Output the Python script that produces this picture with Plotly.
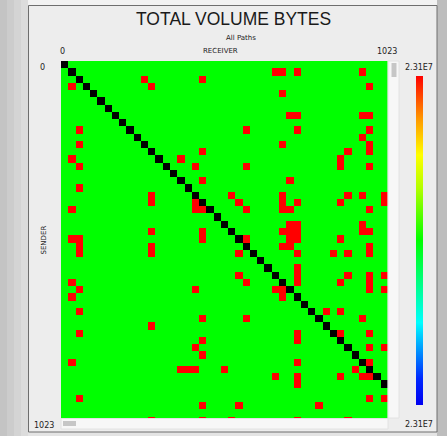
import plotly.graph_objects as go

W, H = 447, 436

# Matrix of node-to-node traffic, binned into 45 receiver columns; 50 sender rows are in view.
n_receivers = 45
n_senders = 50
tick_first = "0"
tick_last = "1023"
scale_label = "2.31E7"

# (sender_row, receiver_col) bins that carry the full volume
hot_cells = [
    (1, 29), (1, 30), (1, 32), (1, 41),
    (2, 11), (2, 19),
    (3, 1), (3, 12), (3, 42),
    (4, 30),
    (7, 31), (7, 32), (7, 41), (7, 42),
    (9, 2), (9, 25), (9, 32), (9, 42),
    (10, 41),
    (11, 2), (11, 30), (11, 42),
    (12, 19), (12, 39), (12, 42),
    (13, 1), (13, 16), (13, 38),
    (14, 2), (14, 18), (14, 25), (14, 38), (14, 42),
    (16, 19), (16, 31),
    (17, 2),
    (18, 12), (18, 23), (18, 30), (18, 39), (18, 41), (18, 44),
    (19, 12), (19, 18), (19, 24), (19, 30), (19, 32), (19, 38), (19, 44),
    (20, 1), (20, 18), (20, 19), (20, 25), (20, 30), (20, 31), (20, 42),
    (22, 31), (22, 32), (22, 41),
    (23, 12), (23, 19), (23, 30), (23, 31), (23, 32), (23, 41), (23, 42),
    (24, 1), (24, 2), (24, 19), (24, 25), (24, 31), (24, 32), (24, 38),
    (25, 2), (25, 12), (25, 30), (25, 31), (25, 42),
    (26, 2), (26, 12), (26, 24), (26, 32), (26, 37), (26, 39), (26, 42),
    (28, 32),
    (29, 24), (29, 32), (29, 39), (29, 42), (29, 44),
    (30, 1), (30, 25), (30, 32), (30, 38), (30, 42),
    (31, 2), (31, 18), (31, 29), (31, 30), (31, 42), (31, 44),
    (32, 1), (32, 30),
    (34, 2), (34, 36), (34, 38),
    (35, 19), (35, 25), (35, 41),
    (36, 12),
    (37, 2), (37, 32), (37, 38), (37, 42),
    (38, 19), (38, 32),
    (39, 18), (39, 42), (39, 44),
    (40, 19),
    (41, 1), (41, 32), (41, 42),
    (42, 16), (42, 17), (42, 18), (42, 22), (42, 40),
    (43, 29), (43, 32), (43, 38), (43, 41), (43, 42),
    (44, 32),
    (46, 2), (46, 42), (46, 44),
    (47, 19), (47, 24), (47, 35),
    (49, 12), (49, 19), (49, 23), (49, 32), (49, 39),
]

# cell codes: 0 = baseline, 1 = peak volume, 2 = self (sender == receiver)
z = [[0] * n_receivers for _ in range(n_senders)]
for r, c in hot_cells:
    z[r][c] = 1
for i in range(min(n_senders, n_receivers)):
    z[i][i] = 2

cell_scale = [
    [0.0, "#00ff00"], [0.33, "#00ff00"],
    [0.33, "#ff0000"], [0.66, "#ff0000"],
    [0.66, "#000000"], [1.0, "#000000"],
]
bar_scale = [
    [0.0, "#0000f0"], [0.08, "#0028ff"], [0.25, "#00ffff"],
    [0.5, "#00ff00"], [0.66, "#b4ff00"], [0.76, "#ffff00"],
    [0.87, "#ff9800"], [1.0, "#ff0000"],
]


def px(x):
    return x / W


def py(y):
    return 1 - y / H


fig = go.Figure()
fig.add_trace(go.Heatmap(
    z=z, x=list(range(n_receivers)), y=list(range(n_senders)),
    colorscale=cell_scale, zmin=0, zmax=2, showscale=False,
    hoverinfo="skip",
))
fig.add_trace(go.Scatter(
    x=[None], y=[None], mode="markers", hoverinfo="skip", showlegend=False,
    marker=dict(
        color=[0, 1], cmin=0, cmax=1, colorscale=bar_scale, showscale=True,
        colorbar=dict(
            x=px(415.5), xanchor="left", xpad=0, ypad=0,
            y=py((76 + 405) / 2), yanchor="middle",
            len=(405 - 76) / H, lenmode="fraction",
            thickness=7, thicknessmode="pixels",
            outlinewidth=0, showticklabels=False, ticks="",
            bgcolor="rgba(0,0,0,0)",
        ),
    ),
))

shapes = []
# window backdrop
for x0, x1, col in [(0, 7, "#c4c4c4"), (7, 14, "#cccccc"), (14, 21, "#d4d4d4"), (21, 28, "#dcdcdc")]:
    shapes.append(dict(type="rect", xref="paper", yref="paper", x0=px(x0), x1=px(x1),
                       y0=0, y1=1, fillcolor=col, line_width=0, layer="below"))
shapes.append(dict(type="rect", xref="paper", yref="paper", x0=px(28), x1=1, y0=py(5), y1=1,
                   fillcolor="#f2f2f2", line_width=0, layer="below"))
shapes.append(dict(type="rect", xref="paper", yref="paper", x0=px(437), x1=1, y0=0, y1=1,
                   fillcolor="#bdbdbd", line_width=0, layer="below"))
# panel
shapes.append(dict(type="rect", xref="paper", yref="paper", x0=px(28.5), x1=px(437),
                   y0=py(432), y1=py(5.5), fillcolor="#ededed",
                   line=dict(color="#6e6e6e", width=1), layer="below"))
# vertical scroller
shapes.append(dict(type="rect", xref="paper", yref="paper", x0=px(388), x1=px(399),
                   y0=py(418), y1=py(61), fillcolor="#f7f7f7",
                   line=dict(color="#e2e2e2", width=1)))
shapes.append(dict(type="rect", xref="paper", yref="paper", x0=px(391.5), x1=px(396.5),
                   y0=py(77), y1=py(63), fillcolor="#c6c6c6", line_width=0))
# horizontal scroller
shapes.append(dict(type="rect", xref="paper", yref="paper", x0=px(61), x1=px(388),
                   y0=py(429), y1=py(418.5), fillcolor="#f7f7f7",
                   line=dict(color="#e2e2e2", width=1)))
shapes.append(dict(type="rect", xref="paper", yref="paper", x0=px(63), x1=px(76),
                   y0=py(426), y1=py(421), fillcolor="#c6c6c6", line_width=0))

FONT = "DejaVu Sans"
TXT = "#222222"


def label(text, x, y, size, angle=0, color=TXT, family=FONT):
    return dict(text=text, xref="paper", yref="paper", x=px(x), y=py(y),
                xanchor="center", yanchor="middle", showarrow=False, textangle=angle,
                font=dict(family=family, size=size, color=color))


annotations = [
    label("TOTAL VOLUME BYTES", 233, 19, 17.5, color="#1a1a1a", family="Liberation Sans"),
    label("All Paths", 241, 38, 7),
    label("RECEIVER", 220, 51.5, 7),
    label(tick_first, 62.5, 51.5, 8),
    label(tick_last, 386.5, 51.5, 8),
    label(tick_first, 42, 67, 8),
    label(tick_last, 44, 425, 8),
    label("SENDER", 43.5, 240, 7, angle=-90),
    label(scale_label, 419, 67, 8),
    label(scale_label, 419, 424.5, 8),
]

fig.update_layout(
    width=W, height=H, margin=dict(l=0, r=0, t=0, b=0),
    paper_bgcolor="#e4e4e4", plot_bgcolor="#00ff00",
    showlegend=False, shapes=shapes, annotations=annotations,
    xaxis=dict(domain=[px(61), px(387.7)], range=[-0.5, n_receivers - 0.5],
               showticklabels=False, showgrid=False, zeroline=False, ticks=""),
    yaxis=dict(domain=[py(418.5), py(61)], range=[48.75, -0.5],
               showticklabels=False, showgrid=False, zeroline=False, ticks=""),
)

fig.write_html("out.html")
